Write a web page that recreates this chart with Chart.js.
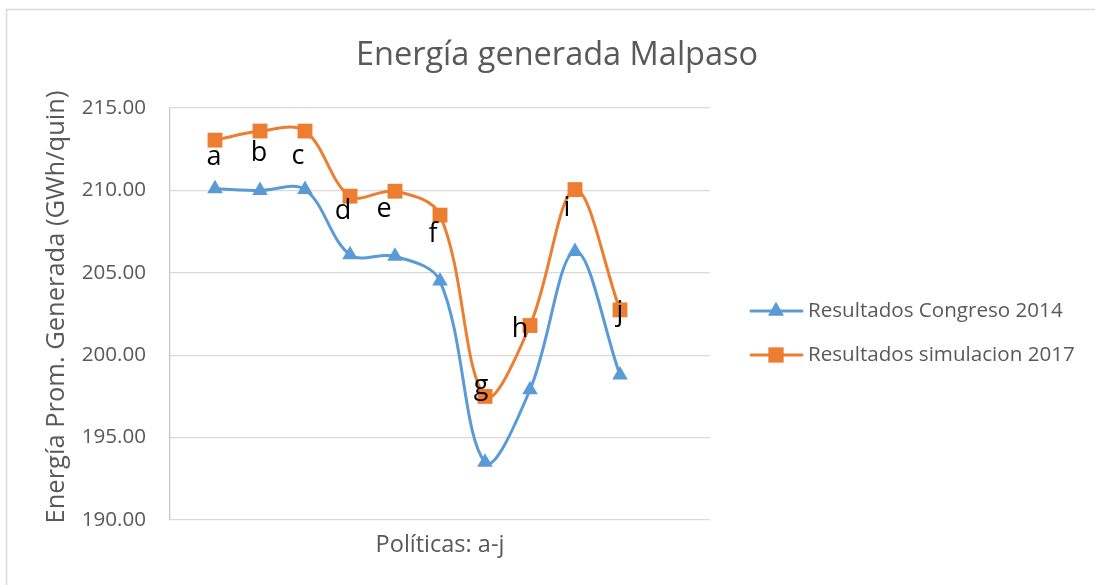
<!DOCTYPE html>
<html><head><meta charset="utf-8">
<script src="https://cdn.jsdelivr.net/npm/chart.js@4/dist/chart.umd.min.js"></script>
<style>html,body{margin:0;padding:0;background:#fff}#wrap{width:1095px;height:585px;position:relative}</style>
</head><body><div id="wrap"><canvas id="c" width="1095" height="585"></canvas></div>
<script>
// ---- data ----
const policies = [1, 2, 3, 4, 5, 6, 7, 8, 9, 10];
const pointLabels = ['a', 'b', 'c', 'd', 'e', 'f', 'g', 'h', 'i', 'j'];
const congreso2014 = [210.1, 210.0, 210.05, 206.1, 206.0, 204.5, 193.5, 197.9, 206.3, 198.8];
const simulacion2017 = [213.05, 213.6, 213.6, 209.65, 209.95, 208.5, 197.5, 201.8, 210.05, 202.75];
const yTickValues = [190, 195, 200, 205, 210, 215];
const seriesNames = ['Resultados Congreso 2014', 'Resultados simulacion 2017'];
const chartTitle = 'Energía generada Malpaso';
const xTitle = 'Políticas: a-j';
const yTitle = 'Energía Prom. Generada (GWh/quin)';

// label offsets (style only, pixels relative to the orange point)
const labelOffsets = [[-1,17],[-1,22],[-7,25],[-7,15],[-11,18],[-7,19],[-4,-10],[-10,4],[-8,19],[0,2]];

const FONT = '"Open Sans", Lato, sans-serif';
const GREY = '#595959';
const BLUE = '#5B9BD5', ORANGE = '#ED7D31';

const toXY = (ys) => policies.map((x, i) => ({x, y: ys[i]}));

const decor = {
  id: 'decor',
  beforeDraw(chart) {
    const ctx = chart.ctx;
    ctx.save();
    ctx.strokeStyle = '#d9d9d9';
    ctx.lineWidth = 1.5;
    ctx.beginPath();
    ctx.moveTo(6.5, 585); ctx.lineTo(6.5, 9.5); ctx.lineTo(1095, 9.5);
    ctx.stroke();
    ctx.restore();
  },
  afterDraw(chart) {
    const ctx = chart.ctx;
    const ca = chart.chartArea;
    ctx.save();
    // title
    ctx.fillStyle = GREY;
    ctx.font = '32.5px ' + FONT;
    ctx.textAlign = 'center';
    ctx.textBaseline = 'alphabetic';
    ctx.fillText(chartTitle, 557, 65);
    // axis titles
    ctx.font = '23.5px ' + FONT;
    ctx.textBaseline = 'middle';
    ctx.fillText(xTitle, (ca.left + ca.right) / 2, 545);
    ctx.save();
    ctx.translate(57, 307);
    ctx.rotate(-Math.PI / 2);
    ctx.font = '25.5px ' + FONT;
    ctx.fillText(yTitle, 0, 0);
    ctx.restore();
    // legend
    const items = [
      {name: seriesNames[0], color: BLUE, style: 'triangle', y: 311},
      {name: seriesNames[1], color: ORANGE, style: 'rect', y: 355}
    ];
    items.forEach(it => {
      ctx.strokeStyle = it.color;
      ctx.lineWidth = 3;
      ctx.lineCap = 'round';
      ctx.beginPath(); ctx.moveTo(751, it.y); ctx.lineTo(802, it.y); ctx.stroke();
      ctx.fillStyle = it.color;
      Chart.helpers.drawPoint(ctx, {pointStyle: it.style, radius: it.style === 'rect' ? 10.5 : 9, borderWidth: 0}, 776, it.y);
      ctx.fill();
      ctx.fillStyle = GREY;
      ctx.textAlign = 'left';
      ctx.textBaseline = 'middle';
      ctx.font = '20.6px ' + FONT;
      ctx.fillText(it.name, 808, it.y);
    });
    // data labels a-j on orange points
    const meta = chart.getDatasetMeta(1);
    ctx.fillStyle = '#000';
    ctx.font = '27px ' + FONT;
    ctx.textAlign = 'center';
    ctx.textBaseline = 'middle';
    meta.data.forEach((pt, i) => {
      ctx.fillText(pointLabels[i], pt.x + labelOffsets[i][0], pt.y + labelOffsets[i][1]);
    });
    ctx.restore();
  }
};

new Chart(document.getElementById('c'), {
  type: 'line',
  data: {
    datasets: [
      {label: seriesNames[0], data: toXY(congreso2014), borderColor: BLUE, backgroundColor: BLUE,
       borderWidth: 3, pointStyle: 'triangle', pointRadius: 9, pointBorderWidth: 0, tension: 0.35, fill: false},
      {label: seriesNames[1], data: toXY(simulacion2017), borderColor: ORANGE, backgroundColor: ORANGE,
       borderWidth: 3, pointStyle: 'rect', pointRadius: 10.5, pointBorderWidth: 0, tension: 0.35, fill: false}
    ]
  },
  options: {
    responsive: false,
    devicePixelRatio: 1,
    animation: false,
    layout: {padding: {top: 108, right: 385, bottom: 0, left: 0}},
    plugins: {legend: {display: false}, title: {display: false}, tooltip: {enabled: false}},
    scales: {
      x: {
        type: 'linear', min: 0, max: 12,
        grid: {display: false},
        border: {display: false},
        ticks: {display: false},
        afterFit(s) { s.height = 65; }
      },
      y: {
        min: 190, max: 215,
        afterBuildTicks(s) { s.ticks = yTickValues.map(v => ({value: v})); },
        ticks: {color: GREY, font: {family: FONT, size: 20.6}, padding: 24, callback: v => v.toFixed(2)},
        grid: {color: '#d9d9d9', lineWidth: 1.3, drawTicks: false},
        border: {display: true, color: '#c8c8c8', width: 1.3},
        afterFit(s) { s.width = 170; }
      }
    }
  },
  plugins: [decor]
});
</script>
</body></html>
